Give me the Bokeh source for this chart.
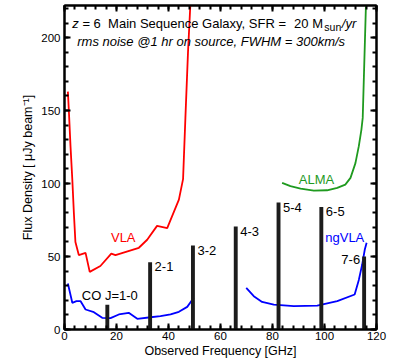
from bokeh.plotting import figure
from bokeh.models import (LinearAxis, Range1d, Label, ColumnDataSource, SingleIntervalTicker,
                          CustomLabelingPolicy)
from bokeh.core.properties import value
from bokeh.embed import file_html
from bokeh.resources import INLINE

FONT = "Liberation Sans"

# ---- data ----
vla_freq = [1.3, 1.7, 2.3, 3.0, 3.6, 4.2, 5.5, 8.1, 9.7, 13.8, 18.0, 19.6, 28.6, 31.8,
            35.6, 39.5, 44.0, 45.6, 46.5, 47.5, 48.5]
vla_flux = [163, 149, 126, 103, 80, 60, 51, 52.5, 39.5, 43.5, 52, 51, 56, 61.5,
            71, 69.5, 89, 103, 145, 190, 226]

alma_freq = [83.7, 86.9, 90.8, 95.9, 101.0, 104.9, 108.0, 110.0, 111.9, 113.2, 114.2, 114.7, 116.0]
alma_flux = [100.5, 98.2, 96.5, 95.2, 95.4, 97.0, 99.3, 103.9, 114.0, 125.6, 137.0, 145.0, 226]

ngvla1_freq = [1.3, 3.0, 4.6, 6.2, 8.1, 11.3, 14.5, 17.7, 20.9, 24.7, 28.0, 33.1, 36.9,
               40.8, 44.0, 47.2, 49.7]
ngvla1_flux = [31.5, 18.3, 19.4, 19.4, 13.7, 11.9, 8.0, 7.8, 10.3, 11.4, 7.3, 8.4, 9.1,
               10.3, 12.1, 15.5, 21.7]

ngvla2_freq = [69.9, 72.8, 76.0, 80.5, 88.2, 97.2, 104.9, 111.6, 113.2, 114.5, 115.5, 116.2]
ngvla2_flux = [28.5, 22.8, 18.9, 17.1, 16.0, 16.4, 19.4, 24.0, 34.0, 44.5, 54.8, 59.4]

co_freq = [16.47, 32.93, 49.40, 65.86, 82.32, 98.78, 115.24]
co_flux = [17, 46, 57.5, 70.5, 87, 84, 50]
co_label = ["CO J=1-0", "2-1", "3-2", "4-3", "5-4", "6-5", "7-6"]

p = figure(width=400, height=360, x_range=Range1d(0, 120), y_range=Range1d(0, 222),
           output_backend="svg", toolbar_location=None,
           min_border_left=64, min_border_right=24, min_border_top=5, min_border_bottom=30)
p.background_fill_color = "white"
p.border_fill_color = "white"
p.xgrid.visible = False
p.ygrid.visible = False
p.outline_line_color = "black"
p.outline_line_width = 2

no_labels = CustomLabelingPolicy(code="""
for (const i of indices) indices.unset(i)
return indices
""")

def style_axis(ax, show_labels=True):
    ax.axis_line_width = 2
    ax.axis_line_color = "black"
    ax.major_tick_line_width = 2
    ax.minor_tick_line_width = 2
    ax.major_tick_in = 6
    ax.major_tick_out = 0
    ax.minor_tick_in = 4
    ax.minor_tick_out = 0
    ax.major_label_text_font = FONT
    ax.major_label_text_color = "black"
    ax.axis_label_text_font = FONT
    ax.axis_label_text_font_style = "normal"
    ax.axis_label_text_color = "black"
    if show_labels:
        ax.major_label_text_font_size = "11.5px"
        ax.axis_label_text_font_size = "12.5px"
    else:
        ax.major_label_text_font_size = "1px"
        ax.major_label_standoff = 0
        ax.major_label_policy = no_labels

p.xaxis.ticker = SingleIntervalTicker(interval=20, num_minor_ticks=5)
p.yaxis.ticker = SingleIntervalTicker(interval=50, num_minor_ticks=5)
style_axis(p.xaxis[0])
style_axis(p.yaxis[0])
p.xaxis.axis_label = "Observed Frequency [GHz]"
p.yaxis.axis_label = "Flux Density [ μJy beam⁻¹]"
p.xaxis.major_label_standoff = 2
p.xaxis.axis_label_standoff = 1
p.yaxis.major_label_standoff = 4
p.yaxis.axis_label_standoff = 3

top_ax = LinearAxis(ticker=SingleIntervalTicker(interval=20, num_minor_ticks=5))
right_ax = LinearAxis(ticker=SingleIntervalTicker(interval=50, num_minor_ticks=5))
style_axis(top_ax, False)
style_axis(right_ax, False)
p.add_layout(top_ax, "above")
p.add_layout(right_ax, "right")

# curves
p.line(vla_freq, vla_flux, line_color="red", line_width=1.8)
p.line(alma_freq, alma_flux, line_color="#1f9a1f", line_width=1.8)
p.line(ngvla1_freq, ngvla1_flux, line_color="blue", line_width=1.8)
p.line(ngvla2_freq, ngvla2_flux, line_color="blue", line_width=1.8)

# CO lines
p.vbar(x=co_freq, top=co_flux, bottom=0, width=1.5, fill_color="#1c1c1c", line_color=None)

mid = ColumnDataSource(dict(x=co_freq[1:6], y=co_flux[1:6], t=co_label[1:6]))
p.text(x="x", y="y", text="t", source=mid, x_offset=4.5, y_offset=0,
       text_align="left", text_baseline="top", text_font=value(FONT),
       text_font_size="13px", text_color="black")
first = ColumnDataSource(dict(x=co_freq[:1], y=co_flux[:1], t=co_label[:1]))
p.text(x="x", y="y", text="t", source=first, x_offset=2.5, y_offset=-2,
       text_align="center", text_baseline="bottom", text_font=value(FONT),
       text_font_size="13px", text_color="black")
last = ColumnDataSource(dict(x=co_freq[6:], y=co_flux[6:], t=co_label[6:]))
p.text(x="x", y="y", text="t", source=last, x_offset=-4, y_offset=-2,
       text_align="right", text_baseline="top", text_font=value(FONT),
       text_font_size="13px", text_color="black")

# curve names
for txt, x, y, col in [("VLA", 22.6, 63, "red"), ("ALMA", 96.9, 102.7, "#1f9a1f"),
                       ("ngVLA", 107.8, 62.8, "blue")]:
    p.add_layout(Label(x=x, y=y, text=txt, text_color=col, text_font=FONT,
                       text_font_size="13px", text_align="center", text_baseline="middle"))

# header text
hx, hy = 3.0, 209.5
parts = [("z", 0, 0, "italic", "13px"),
         ("= 6", 10.1, 0, "normal", "13px"),
         ("Main Sequence Galaxy, SFR =", 35.8, 0, "normal", "13px"),
         ("20 M", 221.8, 0, "normal", "13px"),
         ("sun", 252.0, -3, "normal", "10.5px"),
         ("/yr", 269.5, 0, "italic", "13px")]
for txt, dx, dy, st, fs in parts:
    p.add_layout(Label(x=hx, y=hy, x_offset=dx, y_offset=dy, text=txt, text_font=FONT,
                       text_font_size=fs, text_font_style=st, text_color="black",
                       text_align="left", text_baseline="middle"))
p.add_layout(Label(x=4.9, y=197.6, text="rms noise @1 hr on source, FWHM = 300km/s",
                   text_font=FONT, text_font_size="13px", text_font_style="italic",
                   text_color="black", text_align="left", text_baseline="middle"))

open("out.html", "w").write(file_html(p, INLINE))
